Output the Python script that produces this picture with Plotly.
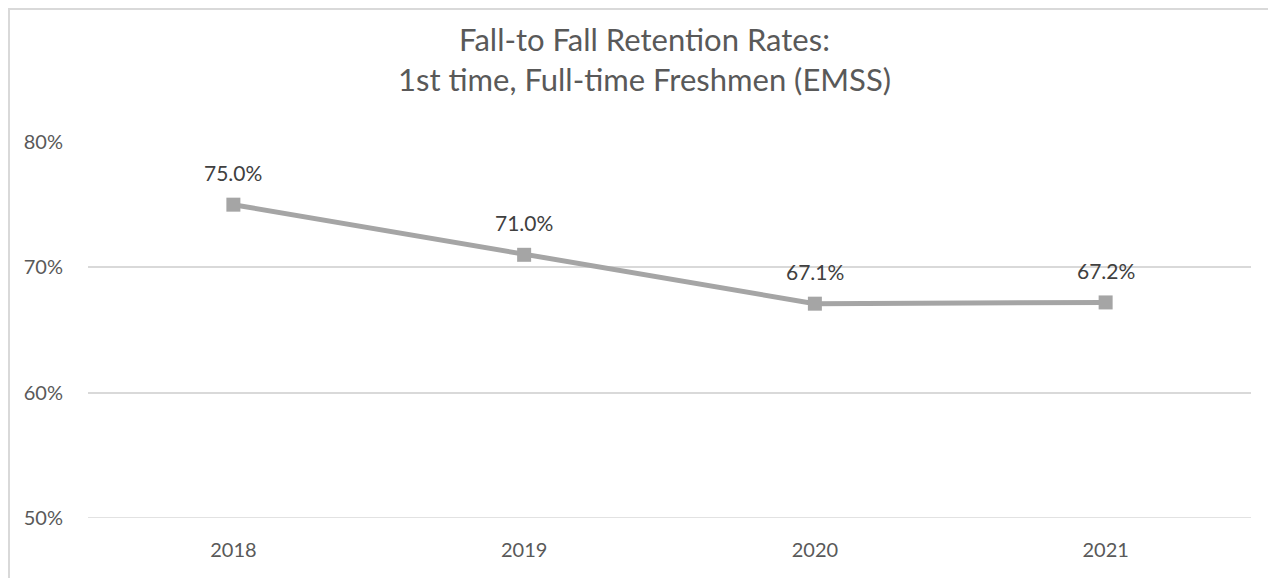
import plotly.graph_objects as go

years = ["2018", "2019", "2020", "2021"]
retention = [0.750, 0.710, 0.671, 0.672]
labels = ["75.0%", "71.0%", "67.1%", "67.2%"]
y_ticks = [0.5, 0.6, 0.7, 0.8]
y_tick_labels = ["50%", "60%", "70%", "80%"]
title_lines = ["Fall-to Fall Retention Rates:", "1st time, Full-time Freshmen (EMSS)"]

# page is offset by the 8px body margin; sizes below are in figure pixels
W, H = 1268, 570
L, R, T, B = 80, 25, 134, 60
TXT = "#595959"
FONT = "Lato"
pw = W - L - R
ph = H - T - B

fig = go.Figure()
fig.add_trace(go.Scatter(
    x=years, y=retention, mode="lines+markers",
    line=dict(color="#A5A5A5", width=5),
    marker=dict(symbol="square", size=14, color="#A5A5A5"),
    cliponaxis=False, showlegend=False,
))

for i, (v, lab) in enumerate(zip(retention, labels)):
    fig.add_annotation(x=i, y=v, text=lab, showarrow=False, yshift=32,
                       yanchor="middle", xanchor="center",
                       font=dict(family=FONT, size=21, color="#404040"))

# title (two lines, one text block)
fig.add_annotation(xref="paper", yref="paper",
                   x=(636 - L) / pw, y=(H - B - 51) / ph,
                   text="<br>".join(title_lines), showarrow=False,
                   xanchor="center", yanchor="middle", align="center",
                   font=dict(family=FONT, size=31, color=TXT))

# bottom gridline at 50%
fig.add_shape(type="line", xref="paper", yref="y", x0=0, x1=1,
              y0=y_ticks[0], y1=y_ticks[0], line=dict(color="#D9D9D9", width=1.5),
              layer="below")

# chart border (left and top)
fig.add_shape(type="line", xref="paper", yref="paper",
              x0=(1 - L) / pw, x1=(1 - L) / pw,
              y0=-B / ph, y1=(H - 1 - B) / ph,
              line=dict(color="#D9D9D9", width=2))
fig.add_shape(type="line", xref="paper", yref="paper",
              x0=(0 - L) / pw, x1=(W - L) / pw,
              y0=(H - 1 - B) / ph, y1=(H - 1 - B) / ph,
              line=dict(color="#D9D9D9", width=2))

fig.update_layout(
    width=W, height=H,
    margin=dict(l=L, r=R, t=T, b=B),
    paper_bgcolor="white", plot_bgcolor="white",
    xaxis=dict(type="category", range=[-0.5, 3.5], showgrid=False, showline=False,
               ticks="outside", ticklen=14, tickcolor="white",
               tickfont=dict(family=FONT, size=20, color=TXT)),
    yaxis=dict(range=[0.5, 0.8], tickvals=y_ticks, ticktext=y_tick_labels,
               showgrid=True, gridcolor="#D9D9D9", gridwidth=1.5,
               zeroline=False, showline=False, ticks="outside", ticklen=20, tickcolor="white",
               tickfont=dict(family=FONT, size=20, color=TXT)),
)
fig.write_html("out.html")
